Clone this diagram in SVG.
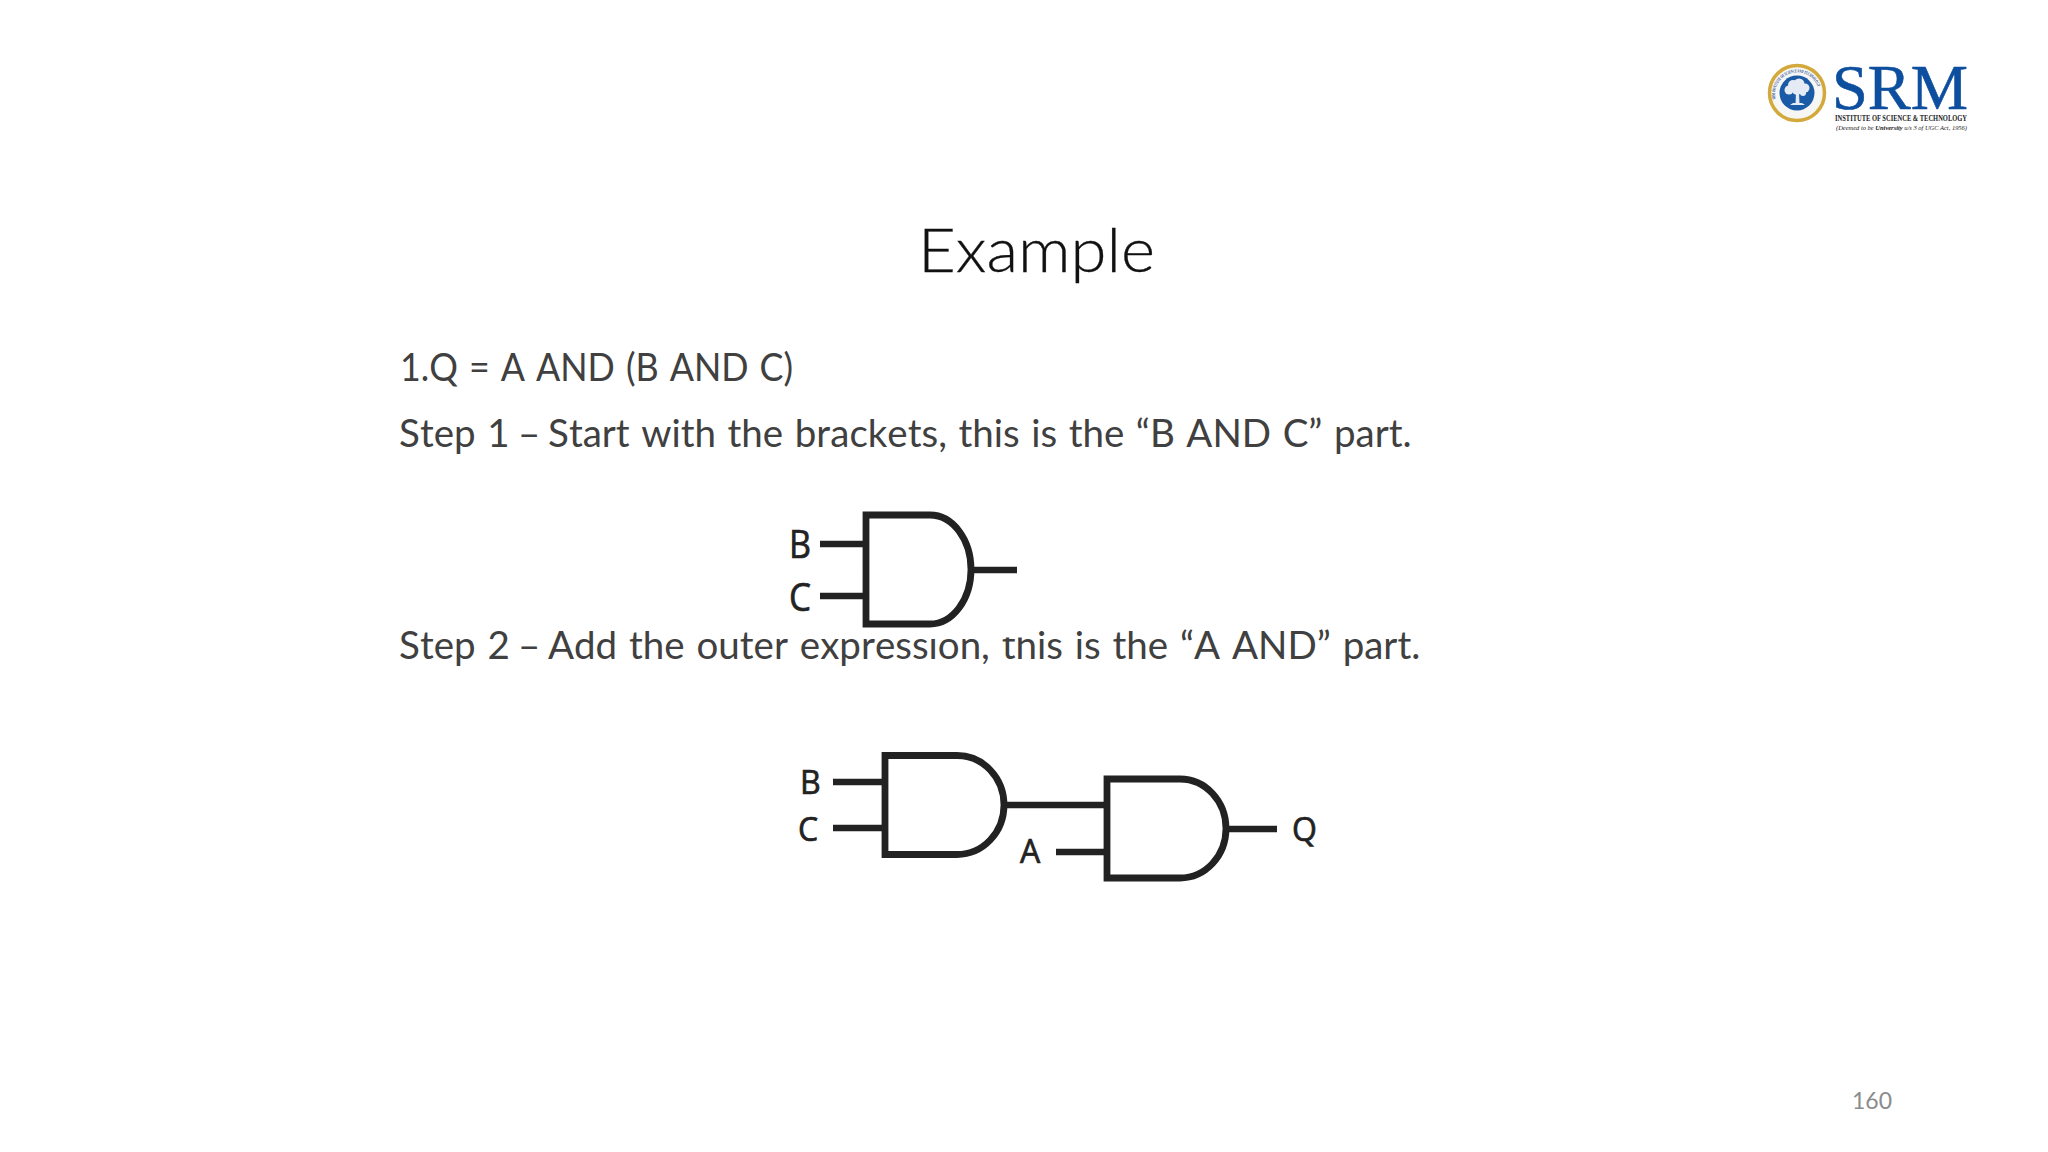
<svg xmlns="http://www.w3.org/2000/svg" width="2048" height="1152" viewBox="0 0 2048 1152">
<defs>
<style>
.body{font-family:"Lato","Liberation Sans",sans-serif;font-size:38.5px;fill:#404040;font-kerning:none;word-spacing:2px}
.title{font-family:"Lato","Liberation Sans",sans-serif;font-weight:300;font-size:62px;fill:#111;stroke:#111;stroke-width:.3}
.lbl{font-family:"Open Sans","Liberation Sans",sans-serif;font-size:32px;fill:#222;stroke:#222;stroke-width:.7}
.gate{fill:#fff;stroke:#222;stroke-width:6.8}
.wire{stroke:#222;stroke-width:6.5;fill:none}
.serif{font-family:"Liberation Serif",serif}
</style>
</defs>
<rect width="2048" height="1152" fill="#fff"/>
<g id="logo">
<circle cx="1797" cy="93" r="27.500" fill="#f6f6f4" stroke="#d4a93c" stroke-width="3.500"/>
<circle cx="1797" cy="93" r="17.500" fill="#1a5aa6"/>
<path id="ringtext" d="M1775.500 99a22 22 0 1 1 43 0" fill="none"/>
<text class="serif" font-size="4.500" fill="#1a4a90" font-weight="700"><textPath href="#ringtext" textLength="66" lengthAdjust="spacingAndGlyphs">SRM INSTITUTE OF SCIENCE AND TECHNOLOGY</textPath></text>
<g fill="#e4ebf4">
<circle cx="1789" cy="90" r="4.500"/><circle cx="1793" cy="85" r="5"/><circle cx="1799" cy="84" r="5.500"/><circle cx="1805" cy="88" r="4.500"/><circle cx="1797" cy="90" r="5"/><circle cx="1803" cy="93" r="3"/>
<path d="M1796 92h3l.5 12h-4z"/>
<path d="M1790 105h15l-3-2h-9z"/>
</g>
<text class="serif" x="1832" y="109" font-size="63" fill="#0d4f9e" stroke="#0d4f9e" stroke-width=".6" textLength="136" lengthAdjust="spacingAndGlyphs">SRM</text>
<text class="serif" x="1835" y="121" font-size="8.500" font-weight="700" fill="#222" textLength="132" lengthAdjust="spacingAndGlyphs">INSTITUTE OF SCIENCE &amp; TECHNOLOGY</text>
<text class="serif" x="1836" y="129.500" font-size="7" font-style="italic" fill="#222" textLength="131" lengthAdjust="spacingAndGlyphs">(Deemed to be <tspan font-weight="700">University</tspan> u/s 3 of UGC Act, 1956)</text>
</g>
<text id="title" class="title" x="918" y="272" textLength="237" lengthAdjust="spacingAndGlyphs">Example</text>
<text id="line1" class="body" x="400" y="381" textLength="393" lengthAdjust="spacingAndGlyphs">1.Q = A AND (B AND C)</text>
<text id="line2" class="body" style="word-spacing:1.7px" x="399" y="447">Step 1 <tspan x="518">–</tspan><tspan x="548">Start with the brackets, this is the “B AND C” part.</tspan></text>
<text id="line3" class="body" x="399" y="659">Step 2 <tspan x="518">–</tspan><tspan x="548">Add the outer expression, this is the “A AND” part.</tspan></text>
<rect x="780" y="500" width="258" height="137.500" fill="#fff"/>
<g id="connectors">
<path class="wire" d="M820 544H866M820 596H866M971 570H1017"/>
<path class="wire" d="M833 782H885M833 828H885M1004 805H1107M1056 852H1107M1226 829H1277"/>
</g>
<g id="gate1"><path class="gate" d="M866 515H930A41 54.500 0 0 1 930 624H866Z"/><text class="lbl" x="789" y="558" style="font-size:38px" textLength="22" lengthAdjust="spacingAndGlyphs">B</text><text class="lbl" x="789" y="611" style="font-size:38px" textLength="22" lengthAdjust="spacingAndGlyphs">C</text></g>
<g id="gate2"><path class="gate" d="M885 755.500H957A47 49.500 0 0 1 957 854.500H885Z"/><text class="lbl" x="800" y="794">B</text><text class="lbl" x="798" y="841">C</text></g>
<g id="gate3"><path class="gate" d="M1107 779H1180A46 49.500 0 0 1 1180 878H1107Z"/><text class="lbl" x="1020" y="863">A</text><text class="lbl" x="1292" y="841">Q</text></g>
<text id="pagenum" x="1852" y="1109" font-family="Lato,'Liberation Sans',sans-serif" font-size="23" fill="#8b8b8b" textLength="40" lengthAdjust="spacingAndGlyphs">160</text>
</svg>
